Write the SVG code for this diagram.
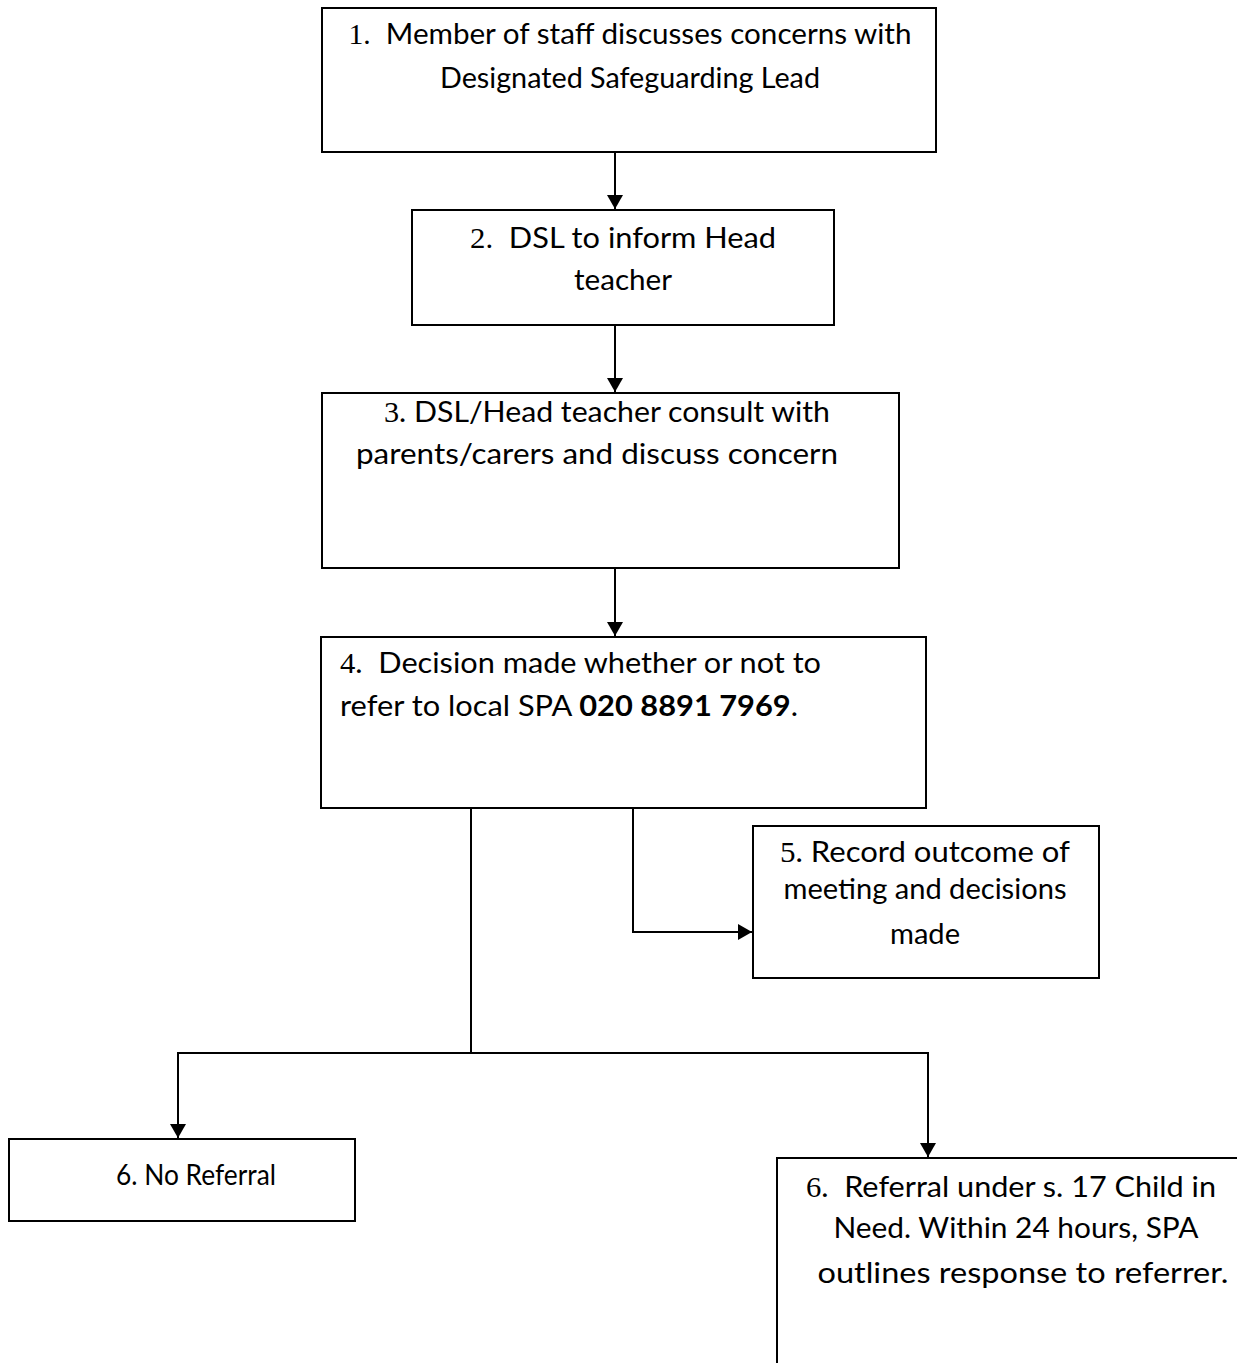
<svg xmlns="http://www.w3.org/2000/svg" width="1237" height="1363" viewBox="0 0 1237 1363">
<style>
.box{fill:#fff;stroke:#000;stroke-width:2}
.t{font-family:Lato,"Open Sans","Liberation Sans",sans-serif;font-size:29px;fill:#000}
.c{text-anchor:middle}
.n{font-family:"Liberation Serif",serif}
.b{font-weight:bold}
.ln{fill:none;stroke:#000;stroke-width:2}
</style>
<defs>
<marker id="ah" viewBox="0 0 14 16" refX="14" refY="8" markerWidth="14" markerHeight="16" markerUnits="userSpaceOnUse" orient="auto">
<path d="M0,0 L14,8 L0,16 Z" fill="#000"/>
</marker>
</defs>
<rect width="1237" height="1363" fill="#fff"/>
<g id="connectors">
<line class="ln" x1="615" y1="152" x2="615" y2="209" marker-end="url(#ah)"/>
<line class="ln" x1="615" y1="325" x2="615" y2="392" marker-end="url(#ah)"/>
<line class="ln" x1="615" y1="568" x2="615" y2="636" marker-end="url(#ah)"/>
<polyline class="ln" points="633,808 633,932 752,932" marker-end="url(#ah)"/>
<line class="ln" x1="471" y1="808" x2="471" y2="1053"/>
<line class="ln" x1="177" y1="1053" x2="929" y2="1053"/>
<line class="ln" x1="178" y1="1052" x2="178" y2="1138" marker-end="url(#ah)"/>
<line class="ln" x1="928" y1="1052" x2="928" y2="1157" marker-end="url(#ah)"/>
</g>
<g id="n1">
<rect class="box" x="322" y="8" width="614" height="144"/>
<text class="t c" x="630" y="44" textLength="563" lengthAdjust="spacingAndGlyphs" xml:space="preserve"><tspan class="n">1.</tspan>  Member of staff discusses concerns with</text>
<text class="t c" x="630" y="88" textLength="380" lengthAdjust="spacingAndGlyphs">Designated Safeguarding Lead</text>
</g>
<g id="n2">
<rect class="box" x="412" y="210" width="422" height="115"/>
<text class="t c" x="623" y="248" textLength="306" lengthAdjust="spacingAndGlyphs" xml:space="preserve"><tspan class="n">2.</tspan>  DSL to inform Head</text>
<text class="t c" x="623" y="290" textLength="98" lengthAdjust="spacingAndGlyphs">teacher</text>
</g>
<g id="n3">
<rect class="box" x="322" y="393" width="577" height="175"/>
<text class="t c" x="607" y="422" textLength="446" lengthAdjust="spacingAndGlyphs"><tspan class="n">3</tspan>. DSL/Head teacher consult with</text>
<text class="t c" x="597" y="464" textLength="482" lengthAdjust="spacingAndGlyphs">parents/carers and discuss concern</text>
</g>
<g id="n4">
<rect class="box" x="321" y="637" width="605" height="171"/>
<text class="t" x="340" y="673" textLength="481" lengthAdjust="spacingAndGlyphs" xml:space="preserve"><tspan class="n">4</tspan>.  Decision made whether or not to</text>
<text class="t" x="340" y="716" textLength="458" lengthAdjust="spacingAndGlyphs">refer to local SPA <tspan class="b">020 8891 7969</tspan>.</text>
</g>
<g id="n5">
<rect class="box" x="753" y="826" width="346" height="152"/>
<text class="t c" x="925" y="862" textLength="290" lengthAdjust="spacingAndGlyphs"><tspan class="n">5</tspan>. Record outcome of</text>
<text class="t c" x="925" y="899" textLength="283" lengthAdjust="spacingAndGlyphs">meeting and decisions</text>
<text class="t c" x="925" y="944" textLength="70" lengthAdjust="spacingAndGlyphs">made</text>
</g>
<g id="n6a">
<rect class="box" x="9" y="1139" width="346" height="82"/>
<text class="t c" x="196" y="1185" textLength="160" lengthAdjust="spacingAndGlyphs">6. No Referral</text>
</g>
<g id="n6b">
<rect class="box" x="777" y="1158" width="480" height="230"/>
<text class="t c" x="1011" y="1197" textLength="410" lengthAdjust="spacingAndGlyphs" xml:space="preserve"><tspan class="n">6</tspan>.  Referral under s. 17 Child in</text>
<text class="t c" x="1016" y="1238" textLength="365" lengthAdjust="spacingAndGlyphs">Need. Within 24 hours, SPA</text>
<text class="t c" x="1023" y="1283" textLength="411" lengthAdjust="spacingAndGlyphs">outlines response to referrer.</text>
</g>
</svg>
